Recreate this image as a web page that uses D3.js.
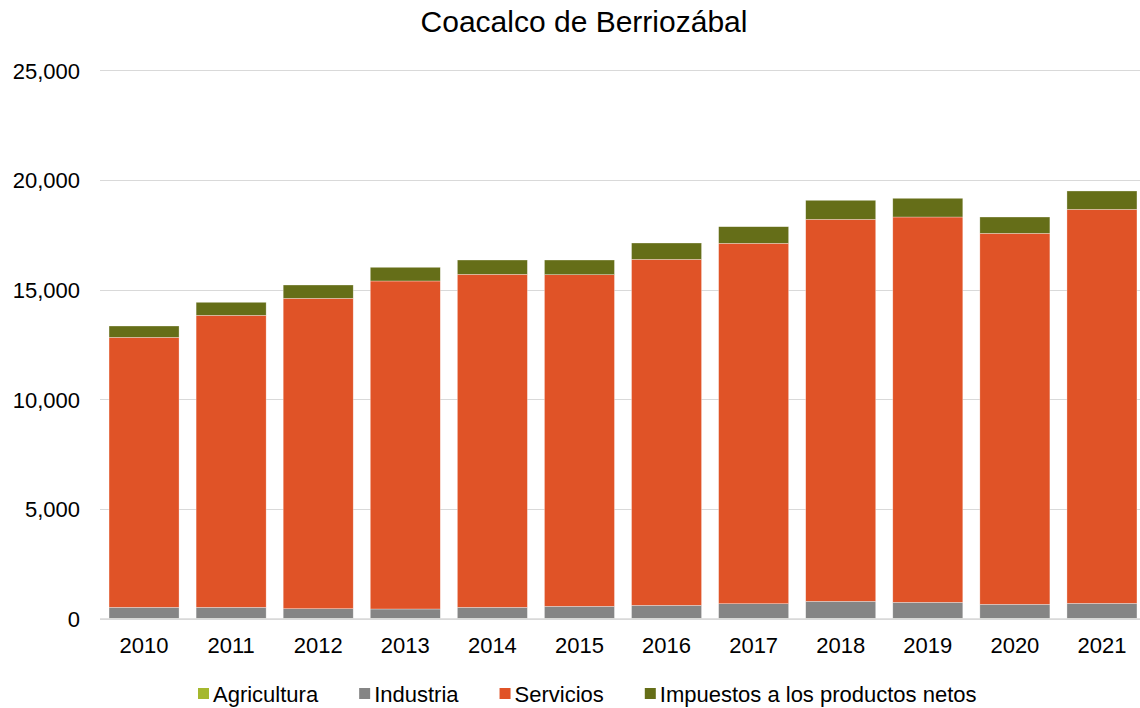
<!DOCTYPE html>
<html>
<head>
<meta charset="utf-8">
<script src="https://cdn.jsdelivr.net/npm/d3@7"></script>
<style>
  body { margin: 0; background: #fff; }
  svg text { font-family: "Liberation Sans", Arial, sans-serif; fill: #000; }
</style>
</head>
<body>
<svg id="chart" width="1140" height="708"></svg>
<script>
"use strict";

// ---- data ----
var years = ['2010','2011','2012','2013','2014','2015','2016','2017','2018','2019','2020','2021'];
var series = ['Agricultura', 'Industria', 'Servicios', 'Impuestos a los productos netos'];
var agricultura = [10, 10, 10, 10, 10, 10, 10, 10, 10, 10, 10, 10];
var industria   = [505, 505, 441, 428, 505, 551, 596, 669, 779, 733, 642, 687];
var servicios   = [12306, 13309, 14148, 14950, 15178, 15114, 15770, 16427, 17411, 17561, 16909, 17958];
var impuestos   = [515, 593, 606, 624, 651, 669, 743, 757, 866, 853, 743, 835];
var yTicks = [0, 5000, 10000, 15000, 20000, 25000];
var colors = ['#a5b82e', '#858585', '#e05327', '#656e18'];

var svg = d3.select('#chart');

// rows for the stack
var rows = years.map(function(y, i) {
	return {
		year: y,
		'Agricultura': agricultura[i],
		'Industria': industria[i],
		'Servicios': servicios[i],
		'Impuestos a los productos netos': impuestos[i]
	};
});
var stacked = d3.stack().keys(series)(rows);

var x = d3.scaleBand().domain(years).range([100.5, 1145.5]).paddingInner(0.196).paddingOuter(0.098);
var y = d3.scaleLinear().domain([0, 25000]).range([618.6, 70.1]);
var color = d3.scaleOrdinal().domain(series).range(colors);

// title
svg.append('text')
	.attr('x', 584).attr('y', 32)
	.attr('text-anchor', 'middle')
	.style('font-size', '30px')
	.text('Coacalco de Berriozábal');

// gridlines
svg.append('g').selectAll('line')
	.data(yTicks.filter(function(d) { return d > 0; })).enter()
	.append('line')
		.attr('x1', 100).attr('x2', 1140)
		.attr('y1', function(d) { return Math.round(y(d)) + 0.5; })
		.attr('y2', function(d) { return Math.round(y(d)) + 0.5; })
		.attr('stroke', '#d9d9d9').attr('stroke-width', 1.2);

// y axis labels
var yAxis = svg.append('g')
	.attr('transform', 'translate(80,0)')
	.call(d3.axisLeft(y).tickValues(yTicks).tickSize(0).tickPadding(0)
		.tickFormat(d3.format(',')));
yAxis.select('.domain').remove();
yAxis.selectAll('text').style('font-size', '22px').attr('dy', '0.36em');

// bars
svg.append('g').selectAll('g')
	.data(stacked).enter()
	.append('g')
		.attr('fill', function(d) { return color(d.key); })
	.selectAll('rect')
	.data(function(d) { return d; }).enter()
	.append('rect')
		.attr('x', function(d) { return x(d.data.year); })
		.attr('width', x.bandwidth())
		.attr('y', function(d) { return y(d[1]); })
		.attr('height', function(d) { return y(d[0]) - y(d[1]); })
		.attr('stroke', '#fff').attr('stroke-width', 0.6).attr('stroke-opacity', 0.5);

// x axis
var xAxis = svg.append('g')
	.attr('transform', 'translate(0,' + y(0) + ')')
	.call(d3.axisBottom(x).tickSize(0).tickPadding(19));
xAxis.select('.domain').attr('d', 'M100,0.5H1140').attr('stroke', '#d9d9d9').attr('stroke-width', 1.6);
xAxis.selectAll('text').style('font-size', '22px');

// legend
var legend = svg.append('g').attr('class', 'legend');
var items = legend.selectAll('g')
	.data(series).enter()
	.append('g');
items.append('rect')
	.attr('width', 11).attr('height', 11)
	.attr('y', 688)
	.attr('fill', function(d) { return color(d); });
items.append('text')
	.attr('x', 15).attr('y', 702)
	.style('font-size', '22px')
	.text(function(d) { return d; });
var pos = 0;
items.each(function() {
	var w = d3.select(this).select('text').node().getComputedTextLength();
	d3.select(this).attr('data-x', pos);
	pos += 15 + w + 41;
});
var total = pos - 41;
var start = 198;
items.attr('transform', function() {
	return 'translate(' + (start + (+d3.select(this).attr('data-x'))) + ',0)';
});
</script>
</body>
</html>
